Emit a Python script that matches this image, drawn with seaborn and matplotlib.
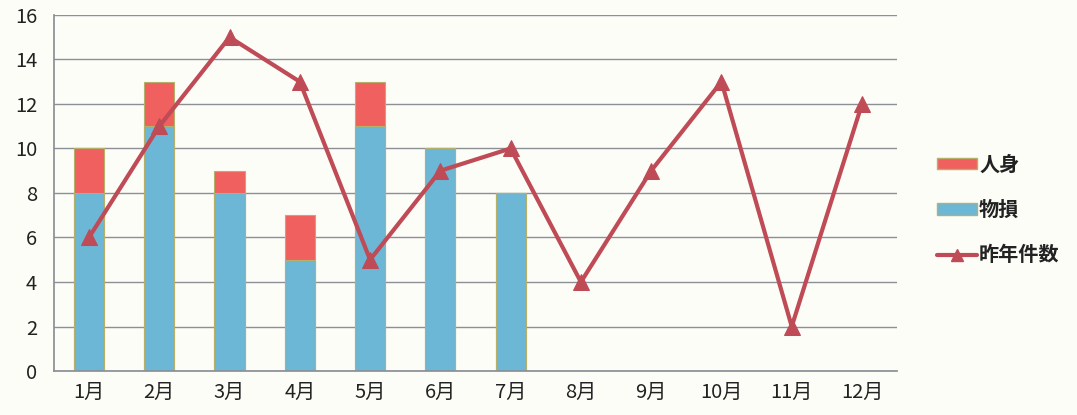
import matplotlib
matplotlib.use("Agg")
import matplotlib.pyplot as plt
import seaborn as sns
import pandas as pd
import numpy as np
from matplotlib.patches import Patch
from matplotlib.lines import Line2D

months = ["1月", "2月", "3月", "4月", "5月", "6月", "7月", "8月", "9月", "10月", "11月", "12月"]
butsuson = [8, 11, 8, 5, 11, 10, 8, np.nan, np.nan, np.nan, np.nan, np.nan]
jinshin = [2, 2, 1, 2, 2, 0, 0, np.nan, np.nan, np.nan, np.nan, np.nan]
last_year = [6, 11, 15, 13, 5, 9, 10, 4, 9, 13, 2, 12]

sns.set_theme(style="white")
plt.rcParams['font.family'] = ['Noto Sans CJK JP', 'DejaVu Sans']

bg = "#fdfdf8"
red = "#f0605e"
blue = "#6cb6d6"
line_c = "#bf4b57"
edge = "#b5b06a"

df = pd.DataFrame({"month": months, "物損": butsuson, "人身": jinshin, "昨年件数": last_year})
df["total"] = df["物損"] + df["人身"]

fig = plt.figure(figsize=(10.77, 4.15), dpi=100, facecolor=bg)
ax = fig.add_axes([0.050, 0.106, 0.783, 0.858])
ax.set_facecolor(bg)

sns.barplot(data=df, x="month", y="total", color=red, saturation=1, width=0.43,
            edgecolor=edge, linewidth=0.8, ax=ax, order=months)
sns.barplot(data=df, x="month", y="物損", color=blue, saturation=1, width=0.43,
            edgecolor=edge, linewidth=0.8, ax=ax, order=months)
sns.lineplot(x=np.arange(len(months)), y=last_year, color=line_c, linewidth=3,
             marker="^", markersize=11, markeredgecolor=line_c, ax=ax, zorder=5)

ax.set_xlim(-0.5, 11.5)
ax.set_ylim(0, 16)
ax.set_yticks(range(0, 17, 2))
ax.yaxis.grid(True, color="#8c8f96", linewidth=1)
ax.set_axisbelow(True)
ax.set_xlabel("")
ax.set_ylabel("")
for s in ["top", "right"]:
    ax.spines[s].set_visible(False)
ax.spines["left"].set_color("#8c8f96")
ax.spines["bottom"].set_color("#8c8f96")
ax.tick_params(axis="both", labelsize=14.5, colors="#222222", length=0)
ax.tick_params(axis="x", pad=8)
ax.tick_params(axis="y", pad=12)

handles = [Patch(facecolor=red, edgecolor=edge, label="人身"),
           Patch(facecolor=blue, edgecolor=edge, label="物損"),
           Line2D([0], [0], color=line_c, linewidth=3, marker="^", markersize=9, label="昨年件数")]
leg = fig.legend(handles=handles, loc="center left", bbox_to_anchor=(0.853, 0.495),
                 frameon=False, fontsize=14.5, handlelength=2.0, handleheight=0.5,
                 labelspacing=1.2, handletextpad=0.1)
for t in leg.get_texts():
    t.set_fontweight("bold")
    t.set_color("#222222")

fig.savefig("out.png", dpi=100, facecolor=bg)
